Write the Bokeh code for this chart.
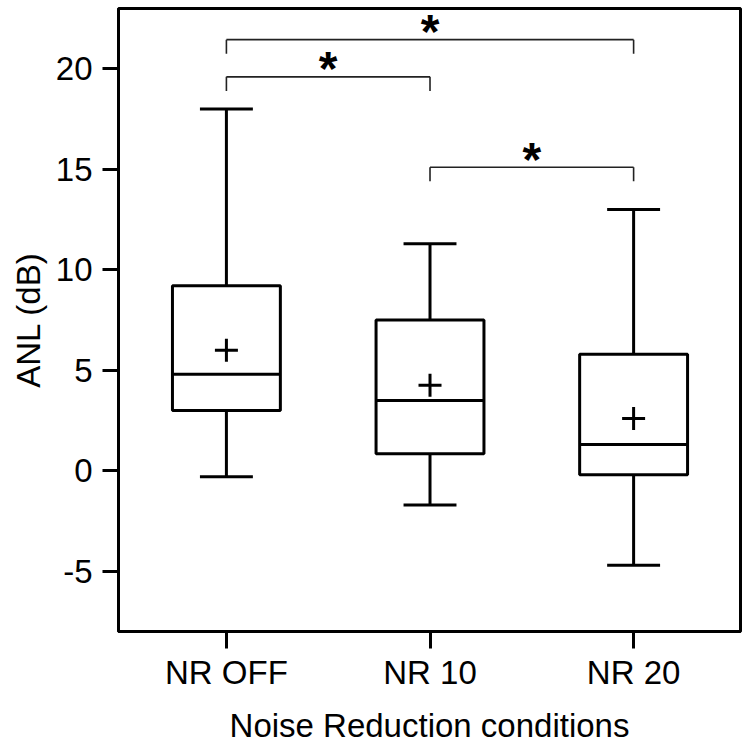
from bokeh.plotting import figure
from bokeh.models import Range1d, FixedTicker, ColumnDataSource
from bokeh.core.properties import value
from bokeh.embed import file_html
from bokeh.resources import INLINE

# ---- data ----
categories = ["NR OFF", "NR 10", "NR 20"]
whisker_low = [-0.3, -1.7, -4.7]
q1 = [3.0, 0.85, -0.2]
median = [4.8, 3.5, 1.3]
q3 = [9.2, 7.5, 5.8]
whisker_high = [18.0, 11.3, 13.0]
means = [6.0, 4.25, 2.6]

bracket_from = [0, 0, 1]
bracket_to = [1, 2, 2]
bracket_y = [19.6, 21.45, 15.1]
bracket_label = ["*", "*", "*"]

y_ticks = [-5, 0, 5, 10, 15, 20]
x_title = "Noise Reduction conditions"
y_title = "ANL (dB)"

FONT = "Liberation Sans"
BOX_W = 0.53
CAP_W = 0.26
DROP = 0.7

xs = list(range(len(categories)))

p = figure(width=750, height=746, output_backend="svg", toolbar_location=None,
           x_range=Range1d(-0.53, 2.525), y_range=Range1d(-8, 23),
           min_border_left=118, min_border_right=10, min_border_top=8,
           min_border_bottom=115)
p.background_fill_color = "white"
p.border_fill_color = "white"
p.xgrid.visible = False
p.ygrid.visible = False
p.outline_line_color = "black"
p.outline_line_width = 3

# axes
for ax in (p.xaxis[0], p.yaxis[0]):
    ax.axis_line_color = "black"
    ax.axis_line_width = 3
    ax.major_tick_line_color = "black"
    ax.major_tick_line_width = 3
    ax.major_tick_in = 0
    ax.major_tick_out = 16
    ax.minor_tick_line_color = None
    ax.major_label_text_font = FONT
    ax.major_label_text_font_size = "33px"
    ax.major_label_text_color = "black"
    ax.axis_label_text_font = FONT
    ax.axis_label_text_font_size = "33px"
    ax.axis_label_text_font_style = "normal"
    ax.axis_label_text_color = "black"

p.xaxis.ticker = FixedTicker(ticks=xs)
p.xaxis.major_label_overrides = {i: c for i, c in zip(xs, categories)}
p.xaxis.axis_label = x_title
p.xaxis.major_tick_out = 17
p.xaxis.major_label_standoff = 5
p.xaxis.axis_label_standoff = 13

p.yaxis.ticker = FixedTicker(ticks=y_ticks)
p.yaxis.major_label_overrides = {t: str(t) for t in y_ticks}
p.yaxis.axis_label = y_title
p.yaxis.major_label_standoff = 10
p.yaxis.axis_label_standoff = 6

src = ColumnDataSource(dict(x=xs, lo=whisker_low, q1=q1, med=median, q3=q3,
                            hi=whisker_high, mean=means,
                            left=[x - BOX_W / 2 for x in xs],
                            right=[x + BOX_W / 2 for x in xs],
                            cl=[x - CAP_W / 2 for x in xs],
                            cr=[x + CAP_W / 2 for x in xs]))

# whiskers
p.segment(x0="x", y0="q3", x1="x", y1="hi", source=src, line_color="black", line_width=3)
p.segment(x0="x", y0="lo", x1="x", y1="q1", source=src, line_color="black", line_width=3)
p.segment(x0="cl", y0="hi", x1="cr", y1="hi", source=src, line_color="black", line_width=3)
p.segment(x0="cl", y0="lo", x1="cr", y1="lo", source=src, line_color="black", line_width=3)
# boxes
p.quad(left="left", right="right", bottom="q1", top="q3", source=src,
       fill_color="white", line_color="black", line_width=3)
p.segment(x0="left", y0="med", x1="right", y1="med", source=src, line_color="black", line_width=3)
# means
p.scatter(x="x", y="mean", source=src, marker="cross", size=23,
          line_color="black", line_width=3)

# significance brackets
bx0, bx1, by, bylo, tx = [], [], [], [], []
for a, b, y in zip(bracket_from, bracket_to, bracket_y):
    bx0.append(xs[a]); bx1.append(xs[b]); by.append(y); bylo.append(y - DROP)
    tx.append((xs[a] + xs[b]) / 2)
bsrc = ColumnDataSource(dict(x0=bx0, x1=bx1, y=by, ylo=bylo, tx=tx, t=bracket_label))
p.segment(x0="x0", y0="y", x1="x1", y1="y", source=bsrc, line_color="#222222", line_width=1.6)
p.segment(x0="x0", y0="y", x1="x0", y1="ylo", source=bsrc, line_color="#222222", line_width=1.6)
p.segment(x0="x1", y0="y", x1="x1", y1="ylo", source=bsrc, line_color="#222222", line_width=1.6)
p.text(x="tx", y="y", text="t", source=bsrc, text_font=value(FONT),
       text_font_size="48px", text_font_style="bold", text_align="center",
       text_baseline="alphabetic", y_offset=-8, text_color="black")

open("out.html", "w").write(file_html(p, INLINE))
